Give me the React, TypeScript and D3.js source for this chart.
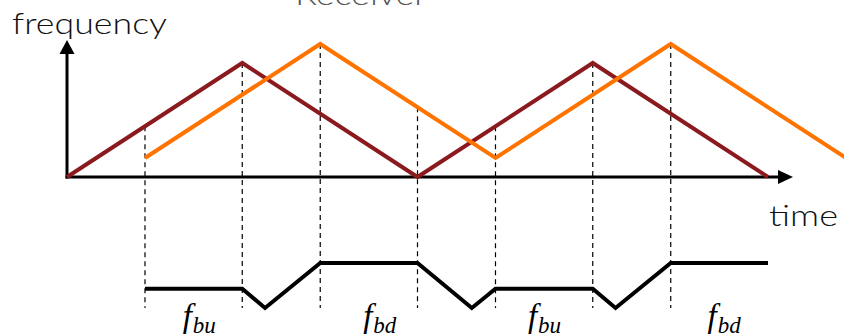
import React, { useEffect } from "react";
import * as d3 from "d3";

// Transmitted chirp (dark red)
const txTime = [0, 1, 2, 3, 4];
const txFreq = [0, 1, 0, 1, 0];
// Received chirp (orange), delayed and Doppler shifted
const rxTime = [0.445, 1.445, 2.445, 3.445, 4.445];
const rxFreq = [0.167, 1.167, 0.167, 1.167, 0.167];
// Beat frequency
const beatTime = [0.445, 1, 1.13, 1.445, 2, 2.31, 2.445, 3, 3.13, 3.445, 4];
const beatFreq = [0.26, 0.26, 0, 0.61, 0.61, 0, 0.26, 0.26, 0, 0.61, 0.61];
// Dashed guide lines (time, top frequency)
const guideTime = [0.445, 1, 1.445, 2, 2.445, 3, 3.445];
const guideTop = [0.445, 1, 1.167, 0.612, 0.445, 1, 1.167];
// Beat labels (start time, subscript)
const labelTime = [0.66, 1.69, 2.63, 3.655];
const labelSub = ["bu", "bd", "bu", "bd"];

const W = 844;
const H = 336;

export default function App() {
  useEffect(() => {
    document.body.style.margin = "0";
  }, []);

  const x = d3.scaleLinear().domain([0, 4]).range([67, 768]);
  const y = d3.scaleLinear().domain([0, 1]).range([177, 63]);
  const yb = d3.scaleLinear().domain([0, 0.61]).range([308, 263]);

  const line = d3
    .line<[number, number]>()
    .x((d) => x(d[0]))
    .y((d) => y(d[1]));
  const beatLine = d3
    .line<[number, number]>()
    .x((d) => x(d[0]))
    .y((d) => yb(d[1]));

  const tx = txTime.map((t, i) => [t, txFreq[i]] as [number, number]);
  const rx = rxTime.map((t, i) => [t, rxFreq[i]] as [number, number]);
  const beat = beatTime.map((t, i) => [t, beatFreq[i]] as [number, number]);

  const x0 = x(0);
  const y0 = y(0);
  const axisEnd = 793;
  const yTop = 40;

  const labelFont = "Lato, 'Open Sans', sans-serif";

  return (
    <svg
      width={W}
      height={H}
      style={{ position: "fixed", left: 0, top: 0, display: "block", background: "#fff" }}
    >
      <text
        x={295}
        y={5}
        fontFamily={labelFont}
        fontWeight={300}
        fontSize={30}
        fill="#555"
        textLength={132}
        lengthAdjust="spacingAndGlyphs"
      >
        Receiver
      </text>
      <text
        x={12}
        y={34}
        fontFamily={labelFont}
        fontWeight={300}
        fontSize={30}
        fill="#111"
        textLength={155}
        lengthAdjust="spacingAndGlyphs"
      >
        frequency
      </text>
      <text
        x={769}
        y={226}
        fontFamily={labelFont}
        fontWeight={300}
        fontSize={30}
        fill="#111"
        textLength={69}
        lengthAdjust="spacingAndGlyphs"
      >
        time
      </text>

      {/* dashed guides */}
      {guideTime.map((t, i) => (
        <line
          key={i}
          x1={x(t)}
          x2={x(t)}
          y1={y(guideTop[i])}
          y2={308}
          stroke="#000"
          strokeWidth={1.2}
          strokeDasharray="5,4"
        />
      ))}

      {/* axes */}
      <line x1={x0} x2={x0} y1={y0 + 1.5} y2={yTop + 12} stroke="#000" strokeWidth={3} />
      <path d={`M${x0},${yTop} L${x0 - 7.5},${yTop + 14} L${x0 + 7.5},${yTop + 14} Z`} fill="#000" />
      <line x1={x0 - 1.5} x2={axisEnd - 12} y1={y0} y2={y0} stroke="#000" strokeWidth={3} />
      <path d={`M${axisEnd},${y0} L${axisEnd - 15},${y0 - 7} L${axisEnd - 15},${y0 + 7} Z`} fill="#000" />

      {/* chirps */}
      <path d={line(tx) || ""} fill="none" stroke="#8B1A1E" strokeWidth={4} />
      <path d={line(rx) || ""} fill="none" stroke="#FF7300" strokeWidth={4} />

      {/* beat frequency */}
      <path d={beatLine(beat) || ""} fill="none" stroke="#000" strokeWidth={4} />

      {labelTime.map((t, i) => (
        <text
          key={i}
          x={x(t)}
          y={327}
          fontFamily="'Liberation Serif', 'Times New Roman', serif"
          fontStyle="italic"
          fill="#000"
        >
          <tspan fontSize={33}>f</tspan>
          <tspan fontSize={23} dy={6} dx={1}>
            {labelSub[i]}
          </tspan>
        </text>
      ))}
    </svg>
  );
}
